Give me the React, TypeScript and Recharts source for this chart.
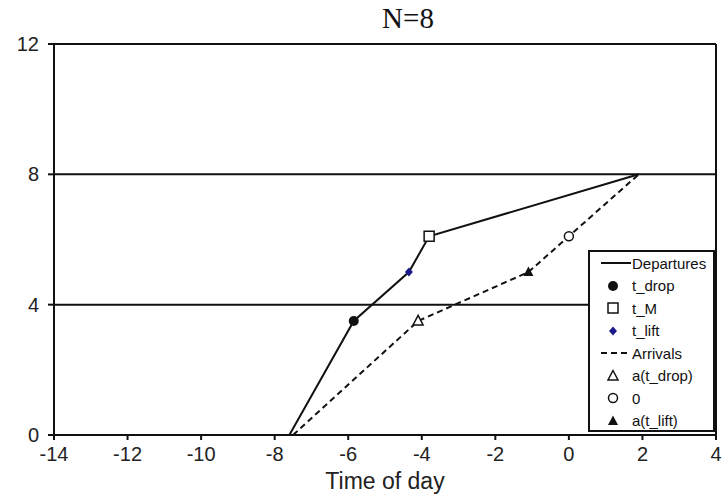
import React from 'react'
import {
  ComposedChart, Line, Scatter, XAxis, YAxis, CartesianGrid,
  ReferenceLine, Legend,
} from 'recharts'

// time of day (x) vs cumulative count (y)
const departures = [
  { t: -7.6, n: 0 },
  { t: -5.85, n: 3.5 },
  { t: -4.35, n: 5 },
  { t: -3.8, n: 6.1 },
  { t: 1.9, n: 8 },
]
const arrivals = [
  { t: -7.5, n: 0 },
  { t: -4.1, n: 3.5 },
  { t: -1.1, n: 5 },
  { t: 0, n: 6.1 },
  { t: 1.9, n: 8 },
]
const tDrop = [{ t: -5.85, n: 3.5 }]
const tM = [{ t: -3.8, n: 6.1 }]
const tLift = [{ t: -4.35, n: 5 }]
const aDrop = [{ t: -4.1, n: 3.5 }]
const zero = [{ t: 0, n: 6.1 }]
const aLift = [{ t: -1.1, n: 5 }]

const xTicks = [-14, -12, -10, -8, -6, -4, -2, 0, 2, 4]
const yTicks = [0, 4, 8, 12]

const INK = '#111'
const BLUE = '#1c1a8a'
const font = '"Liberation Sans", Arial, sans-serif'

type MarkKind = 'dot' | 'square' | 'diamond' | 'tri' | 'ring' | 'triFill'

function Mark({ kind, cx, cy }: { kind: MarkKind; cx: number; cy: number }) {
  switch (kind) {
    case 'dot':
      return <circle cx={cx} cy={cy} r={5} fill={INK} />
    case 'square':
      return <rect x={cx - 5} y={cy - 5} width={10} height={10} fill="#fff" stroke={INK} strokeWidth={1.5} />
    case 'diamond':
      return <path d={`M${cx},${cy - 4.5}L${cx + 4},${cy}L${cx},${cy + 4.5}L${cx - 4},${cy}Z`} fill={BLUE} />
    case 'tri':
      return <path d={`M${cx},${cy - 5.5}L${cx + 5},${cy + 4}L${cx - 5},${cy + 4}Z`} fill="#fff" stroke={INK} strokeWidth={1.5} />
    case 'ring':
      return <circle cx={cx} cy={cy} r={4.5} fill="#fff" stroke={INK} strokeWidth={1.5} />
    case 'triFill':
      return <path d={`M${cx},${cy - 5.5}L${cx + 5},${cy + 4}L${cx - 5},${cy + 4}Z`} fill={INK} />
  }
  return null
}

const shape = (kind: MarkKind) => (p: any) => <Mark kind={kind} cx={p.cx} cy={p.cy} />

const legendRows: { label: string; icon: 'solid' | 'dash' | MarkKind }[] = [
  { label: 'Departures', icon: 'solid' },
  { label: 't_drop', icon: 'dot' },
  { label: 't_M', icon: 'square' },
  { label: 't_lift', icon: 'diamond' },
  { label: 'Arrivals', icon: 'dash' },
  { label: 'a(t_drop)', icon: 'tri' },
  { label: '0', icon: 'ring' },
  { label: 'a(t_lift)', icon: 'triFill' },
]

function LegendBox() {
  return (
    <div style={{
      width: 127, height: 182, boxSizing: 'border-box', border: `2px solid ${INK}`,
      background: '#fff', fontFamily: font, fontSize: 15, color: INK, paddingTop: 0,
    }}>
      {legendRows.map((r) => (
        <div key={r.label} style={{ display: 'flex', alignItems: 'center', height: 22.5 }}>
          <svg width={42} height={22} style={{ flex: 'none' }}>
            {r.icon === 'solid' && <line x1={11} x2={41} y1={11} y2={11} stroke={INK} strokeWidth={2} />}
            {r.icon === 'dash' && <line x1={11} x2={41} y1={11} y2={11} stroke={INK} strokeWidth={2} strokeDasharray="6 4" />}
            {r.icon !== 'solid' && r.icon !== 'dash' && <Mark kind={r.icon} cx={23} cy={11} />}
          </svg>
          <span>{r.label}</span>
        </div>
      ))}
    </div>
  )
}

export default function App() {
  return (
    <div style={{ position: 'absolute', left: 0, top: 0, width: 728, height: 498, background: '#fff' }}>
      <div style={{
        position: 'absolute', left: 0, width: 816, top: 2, textAlign: 'center',
        fontFamily: '"Liberation Serif", "Times New Roman", serif', fontSize: 29, color: INK,
      }}>
        N=8
      </div>
      <ComposedChart width={728} height={498} margin={{ top: 44, right: 12, left: 0, bottom: 0 }}>
        <CartesianGrid vertical={false} stroke={INK} strokeWidth={2} />
        <ReferenceLine x={4} stroke={INK} strokeWidth={2} />
        <XAxis
          type="number"
          dataKey="t"
          domain={[-14, 4]}
          ticks={xTicks}
          allowDataOverflow
          height={63}
          tickSize={5}
          tickMargin={7}
          stroke={INK}
          strokeWidth={2}
          tick={{ fill: '#222', fontSize: 20, fontFamily: font }}
          label={{ value: 'Time of day', position: 'insideBottom', offset: 9, fill: '#222', fontSize: 23, fontFamily: font }}
        />
        <YAxis
          type="number"
          dataKey="n"
          domain={[0, 12]}
          ticks={yTicks}
          width={54}
          tickSize={6}
          tickMargin={9}
          stroke={INK}
          strokeWidth={2}
          tick={{ fill: '#222', fontSize: 20, fontFamily: font }}
        />
        <Legend
          layout="vertical"
          align="center"
          verticalAlign="middle"
          content={() => <LegendBox />}
          wrapperStyle={{ left: 588, top: 250, width: 127, height: 182 }}
        />
        <Line data={departures} dataKey="n" type="linear" stroke={INK} strokeWidth={2} dot={false} activeDot={false} isAnimationActive={false} legendType="none" />
        <Line data={arrivals} dataKey="n" type="linear" stroke={INK} strokeWidth={2} strokeDasharray="6 4" dot={false} activeDot={false} isAnimationActive={false} legendType="none" />
        <Scatter name="t_drop" data={tDrop} shape={shape('dot')} isAnimationActive={false} />
        <Scatter name="t_M" data={tM} shape={shape('square')} isAnimationActive={false} />
        <Scatter name="t_lift" data={tLift} shape={shape('diamond')} isAnimationActive={false} />
        <Scatter name="a(t_drop)" data={aDrop} shape={shape('tri')} isAnimationActive={false} />
        <Scatter name="0" data={zero} shape={shape('ring')} isAnimationActive={false} />
        <Scatter name="a(t_lift)" data={aLift} shape={shape('triFill')} isAnimationActive={false} />
      </ComposedChart>
    </div>
  )
}
